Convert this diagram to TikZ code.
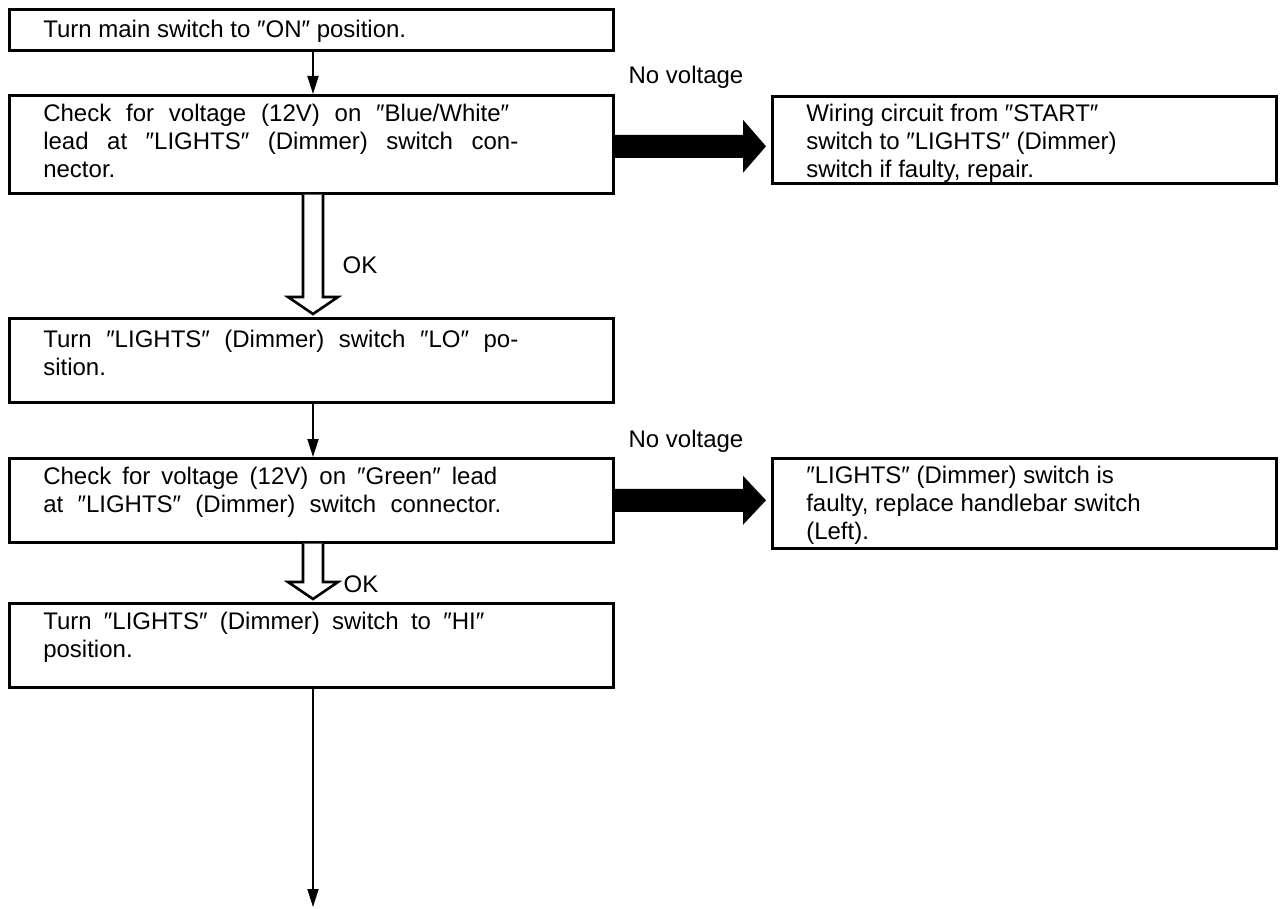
\documentclass[tikz,border=0pt]{standalone}
\usepackage{fontspec}
\setmainfont{Liberation Sans}
\usetikzlibrary{arrows.meta,calc}
\newcommand\sline[2]{\makebox[#1][s]{#2}}
\newcommand\bt[4]{\parbox[c][#1][t]{#2}{\rule{0pt}{#3}#4}}
\begin{document}
\begin{tikzpicture}[x=1pt,y=-1pt,
  box/.style={draw,line width=2.6pt,anchor=north west,
    inner xsep=34pt,inner ysep=0pt,align=left,
    font=\fontsize{24}{28}\selectfont},
  thinarrow/.style={line width=1.8pt,-{Triangle[width=11pt,length=18pt]}},
  hollow/.style={draw,fill=white,line width=2.6pt,line join=miter},
  lbl/.style={font=\fontsize{24}{25}\selectfont,inner sep=0pt}]
\useasboundingbox (0,0) rectangle (1283,909);
\coordinate (sp) at (313,0);
\node[box] (b1) at (8,8) {\bt{41pt}{536pt}{28pt}{Turn main switch to ″ON″ position.}};
\node[box] (b2) at (8,94) {\bt{98pt}{536pt}{26pt}{\sline{466pt}{Check for voltage (12V) on ″Blue/White″}\\\sline{475pt}{lead at ″LIGHTS″ (Dimmer) switch con-}\\nector.}};
\node[box] (r1) at (771,95) {\bt{87pt}{436pt}{25pt}{Wiring circuit from ″START″\\switch to ″LIGHTS″ (Dimmer)\\switch if faulty, repair.}};
\node[box] (b3) at (8,317) {\bt{84pt}{536pt}{29pt}{\sline{475pt}{Turn ″LIGHTS″ (Dimmer) switch ″LO″ po-}\\sition.}};
\node[box] (b4) at (8,457) {\bt{84pt}{536pt}{26pt}{\sline{454pt}{Check for voltage (12V) on ″Green″ lead}\\\sline{458pt}{at ″LIGHTS″ (Dimmer) switch connector.}}};
\node[box] (r2) at (771,457) {\bt{90pt}{436pt}{25pt}{″LIGHTS″ (Dimmer) switch is\\faulty, replace handlebar switch\\(Left).}};
\node[box] (b5) at (8,602) {\bt{84pt}{536pt}{26pt}{\sline{441pt}{Turn ″LIGHTS″ (Dimmer) switch to ″HI″}\\position.}};
\coordinate (end) at (313,907);
% thin arrows
\draw[thinarrow] (b1.south -| sp) -- (b2.north -| sp);
\draw[thinarrow] (b3.south -| sp) -- (b4.north -| sp);
\draw[thinarrow] (b5.south -| sp) -- (end);
% hollow arrows
\draw[hollow] ($(b2.south -| sp)+(-10,0)$) -- ($(b3.north -| sp)+(-10,-20)$) -- ++(-15,0)
  -- ($(b3.north -| sp)+(0,-3)$) -- ($(b3.north -| sp)+(25,-20)$) -- ++(-15,0) -- ($(b2.south -| sp)+(10,0)$);
\draw[hollow] ($(b4.south -| sp)+(-10,0)$) -- ($(b5.north -| sp)+(-10,-20)$) -- ++(-15,0)
  -- ($(b5.north -| sp)+(0,-3)$) -- ($(b5.north -| sp)+(25,-20)$) -- ++(-15,0) -- ($(b4.south -| sp)+(10,0)$);
\node[lbl] (ok1) at (360,265) {OK};
\node[lbl] (ok2) at (361,584) {OK};
% black arrows
\fill ($(b2.east)+(0,-9.5)$) -- ($(r1.west |- b2.east)+(-28,-9.5)$) -- ++(0,-15)
  -- ($(r1.west |- b2.east)+(-5,2)$) -- ++(-23,26.5) -- ++(0,-15) -- ($(b2.east)+(0,13.5)$) -- cycle;
\fill ($(b4.east)+(0,-11.5)$) -- ($(r2.west |- b4.east)+(-28,-11.5)$) -- ++(0,-13)
  -- ($(r2.west |- b4.east)+(-5,0)$) -- ++(-23,24.5) -- ++(0,-13) -- ($(b4.east)+(0,11.5)$) -- cycle;
\node[lbl] (nv1) at (686,77) {No voltage};
\node[lbl] (nv2) at (686,441) {No voltage};
\end{tikzpicture}
\end{document}
